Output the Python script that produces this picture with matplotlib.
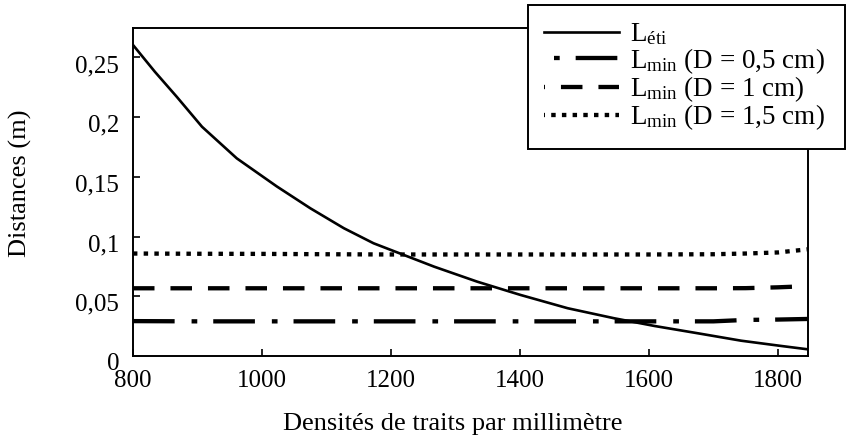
import matplotlib
matplotlib.use("Agg")
import matplotlib.pyplot as plt
from matplotlib.lines import Line2D
from matplotlib.transforms import ScaledTranslation

plt.rcParams["font.family"] = ["Liberation Serif", "DejaVu Serif"]
plt.rcParams["mathtext.fontset"] = "custom"
plt.rcParams["mathtext.rm"] = "Liberation Serif"
plt.rcParams["mathtext.it"] = "Liberation Serif:italic"
plt.rcParams["lines.scale_dashes"] = False

# L_eti: distance versus line density
dens_eti = [800, 834, 868, 907, 961, 1023, 1075, 1127, 1173, 1220,
            1267, 1334, 1401, 1474, 1546, 1609, 1676, 1743, 1805, 1846]
l_eti = [0.2605, 0.238, 0.217, 0.192, 0.1655, 0.142, 0.1237, 0.107, 0.0944, 0.0846,
         0.0748, 0.0622, 0.0511, 0.040, 0.0316, 0.0251, 0.019, 0.0128, 0.0084, 0.0056]

# L_min for three values of D
dens_min = [800, 900, 1000, 1100, 1200, 1300, 1400, 1500, 1600, 1700, 1750, 1800, 1846]
l_min_05 = [0.0292, 0.029, 0.029, 0.029, 0.029, 0.029, 0.029, 0.029, 0.029, 0.029,
            0.0302, 0.0305, 0.031]
l_min_10 = [0.0567, 0.0567, 0.0567, 0.0567, 0.0567, 0.0567, 0.0567, 0.0567, 0.0567,
            0.0567, 0.0568, 0.0575, 0.0585]
l_min_15 = [0.0858, 0.0856, 0.0855, 0.0852, 0.085, 0.085, 0.085, 0.085, 0.085,
            0.0852, 0.0858, 0.0867, 0.0893]

labels = [r"L$_{\mathrm{éti}}$",
          r"L$_{\mathrm{min}}$ (D = 0,5 cm)",
          r"L$_{\mathrm{min}}$ (D = 1 cm)",
          r"L$_{\mathrm{min}}$ (D = 1,5 cm)"]

xticks = [800, 1000, 1200, 1400, 1600, 1800]
yticks = [0, 0.05, 0.1, 0.15, 0.2, 0.25]
ytick_labels = ["0", "0,05", "0,1", "0,15", "0,2", "0,25"]

DASHDOT = (30, 12.2, 4.1, 11.5)
DASHED = (15.5, 11.5)
DOTTED = (3.2, 4.5)
LW_THIN = 1.9
LW_THICK = 3.1

fig = plt.figure(figsize=(8.48, 4.37), dpi=100)
ax = fig.add_axes([0.1568, 0.1854, 0.7955, 0.7506])

ax.plot(dens_eti, l_eti, color="black", lw=LW_THIN)
ax.plot(dens_min, l_min_05, color="black", lw=LW_THICK, linestyle=(0, DASHDOT))
ax.plot(dens_min, l_min_10, color="black", lw=LW_THICK, linestyle=(0, DASHED))
ax.plot(dens_min, l_min_15, color="black", lw=LW_THICK, linestyle=(0, DOTTED))

ax.set_xlim(800, 1846)
ax.set_ylim(0, 0.2747)
ax.set_xticks(xticks)
ax.set_xticklabels([str(v) for v in xticks])
ax.set_yticks(yticks)
ax.set_yticklabels(ytick_labels)

for s in ax.spines.values():
    s.set_linewidth(1.4)
    s.set_color("black")
ax.tick_params(direction="in", length=5, width=1.2, labelsize=18, colors="black")
ax.tick_params(axis="y", pad=10)
ax.tick_params(axis="x", pad=10)

# y tick labels sit slightly below their ticks
shift = ScaledTranslation(0, -6 / 100, fig.dpi_scale_trans)
for lab in ax.get_yticklabels():
    lab.set_transform(lab.get_transform() + shift)

ax.set_xlabel("Densités de traits par millimètre", fontsize=19)
ax.xaxis.set_label_coords(0.474, -0.175)
ax.set_ylabel("Distances (m)", fontsize=19)
ax.yaxis.set_label_coords(-0.15, 0.526)

# legend keys with the dash phase shown in the key box
handles = [
    Line2D([], [], color="black", lw=LW_THIN),
    Line2D([], [], color="black", lw=LW_THICK, linestyle=(35, DASHDOT)),
    Line2D([], [], color="black", lw=LW_THICK, linestyle=(14.8, DASHED)),
    Line2D([], [], color="black", lw=LW_THICK, linestyle=(2.5, DOTTED)),
]
leg = fig.legend(handles, labels, loc="upper left",
                 bbox_to_anchor=(528 / 848, 1 - 5 / 437, 317 / 848, 0),
                 mode="expand",
                 bbox_transform=fig.transFigure, fontsize=19.5, frameon=True,
                 fancybox=False, edgecolor="black", facecolor="white", framealpha=1,
                 handlelength=2.75, handletextpad=0.4, labelspacing=-0.05,
                 borderpad=0.6, borderaxespad=0)
leg.get_frame().set_linewidth(1.4)
leg.set_zorder(10)

fig.savefig("out.png", dpi=100)
